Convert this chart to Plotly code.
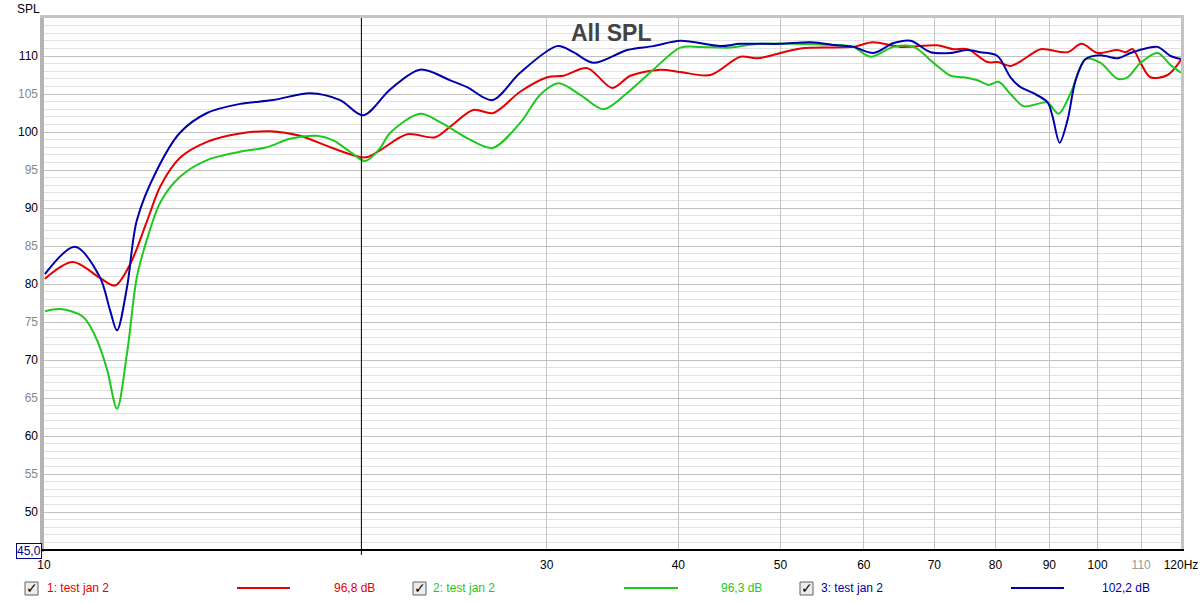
import plotly.graph_objects as go

# ---------------- data ----------------
red_f = [10.02, 10.65, 11.30, 11.68, 12.07, 12.52, 12.89, 13.46, 14.28, 15.35, 16.39, 17.5, 18.69,
         19.96, 20.27, 20.85, 22.12, 23.51, 24.30, 25.55, 26.70, 28.31, 30.04, 31.12, 32.79, 34.63,
         36.02, 38.46, 40.18, 42.91, 45.81, 47.55, 52.25, 58.65, 61.14, 65.03, 70.47, 72.99, 75.26,
         78.61, 80.35, 82.67, 84.51, 85.81, 88.30, 93.66, 96.56, 100.0, 104.47, 106.31, 107.95,
         109.85, 112.27, 116.55, 120.0]
red_db = [80.7, 82.9, 80.8, 79.8, 82.6, 88.2, 92.8, 96.6, 98.7, 99.8, 100.1, 99.5, 98.0,
          96.7, 96.7, 97.6, 99.7, 99.3, 100.7, 102.9, 102.5, 105.3, 107.2, 107.4, 108.4, 105.8,
          107.4, 108.2, 107.9, 107.5, 109.9, 109.7, 111.0, 111.2, 111.8, 111.2, 111.4, 110.9, 110.9,
          109.2, 109.2, 108.7, 109.3, 109.9, 110.9, 110.5, 111.6, 110.4, 110.8, 110.5, 110.9,
          109.1, 107.2, 107.5, 109.5]

green_f = [10.02, 10.36, 10.89, 11.23, 11.48, 11.73, 11.99, 12.25, 12.52, 12.89, 13.46, 14.28, 15.35,
           16.28, 17.12, 18.16, 18.82, 19.52, 20.18, 20.85, 21.31, 22.75, 23.77, 25.21, 26.64, 28.31,
           29.58, 30.78, 32.28, 33.96, 36.02, 37.87, 40.18, 41.98, 44.53, 47.86, 57.00, 58.65, 60.87,
           64.04, 66.91, 69.88, 72.52, 74.61, 76.91, 78.79, 80.54, 82.67, 85.06, 88.30, 89.66, 91.84,
           94.28, 97.41, 100.65, 104.47, 106.78, 109.85, 114.02, 117.31, 120.0]
green_db = [76.4, 76.7, 75.7, 72.6, 68.7, 63.6, 70.9, 80.9, 85.8, 90.7, 94.1, 96.3, 97.4,
            98.0, 99.1, 99.5, 98.9, 97.4, 96.2, 97.9, 99.9, 102.4, 101.3, 99.2, 97.9, 101.2,
            104.9, 106.4, 104.9, 103.0, 105.5, 108.2, 111.1, 111.2, 111.1, 111.6, 111.4, 111.2, 109.9,
            111.2, 111.2, 109.1, 107.4, 107.2, 106.8, 106.2, 106.6, 105.0, 103.4, 103.8, 103.9, 102.4,
            105.1, 109.6, 109.1, 107.0, 107.2, 109.1, 110.4, 108.8, 107.8]

blue_f = [10.02, 10.70, 11.30, 11.55, 11.73, 11.99, 12.25, 12.80, 13.46, 14.28, 15.35, 16.50, 17.89,
          19.10, 20.09, 21.31, 22.75, 24.30, 25.21, 26.64, 28.31, 30.71, 31.80, 33.22, 35.78,
          37.87, 40.18, 43.85, 45.81, 50.00, 53.41, 56.63, 58.65, 61.28, 64.04, 66.46, 69.42, 72.52,
          75.26, 77.42, 80.35, 82.67, 84.51, 86.93, 89.66, 90.65, 92.04, 93.66, 95.31, 97.41, 100.65,
          104.47, 107.48, 110.33, 114.02, 117.31, 120.0]
blue_db = [81.3, 84.9, 80.9, 76.6, 73.9, 79.6, 88.4, 95.0, 99.9, 102.5, 103.7, 104.2, 105.1,
           104.2, 102.2, 105.6, 108.2, 106.8, 105.9, 104.2, 107.8, 111.3, 110.5, 109.1, 110.8,
           111.3, 112.0, 111.3, 111.6, 111.6, 111.8, 111.4, 111.2, 110.4, 111.7, 112.0, 110.5, 110.4,
           110.8, 110.5, 110.0, 107.2, 105.9, 105.1, 103.9, 102.0, 98.6, 101.6, 106.8, 109.6, 110.1,
           109.7, 110.4, 110.9, 111.2, 110.0, 109.6]

series_names = ["1: test jan 2", "2: test jan 2", "3: test jan 2"]
series_levels = ["96,8 dB", "96,3 dB", "102,2 dB"]
series_colors = ["#e60000", "#1ec81e", "#0000aa"]

x_tick_vals = [10, 20, 30, 40, 50, 60, 70, 80, 90, 100, 110, 120]
x_tick_text = ["10", "", "30", "40", "50", "60", "70", "80", "90", "100",
               "<span style='color:#999999'>110</span>", "120Hz"]
y_tick_vals = [50, 55, 60, 65, 70, 75, 80, 85, 90, 95, 100, 105, 110]
y_tick_text = [str(v) if v % 10 == 0 else f"<span style='color:#888888'>{v}</span>" for v in y_tick_vals]

cursor_freq = 20.01
cursor_label = "20,01"
ymin_label = "45,0"
title_text = "All SPL"
y_title = "SPL"

# ---------------- geometry helpers (layout only) ----------------
W, H = 1202, 603
L, R, T, B = 44, 1181, 18, 550


def px(p):
    return (p - L) / (R - L)


def py(p):
    return (B - p) / (B - T)


fig = go.Figure()
for f, d, c, n in zip([red_f, green_f, blue_f], [red_db, green_db, blue_db], series_colors, series_names):
    fig.add_trace(go.Scatter(x=f, y=d, mode="lines", name=n,
                             line=dict(color=c, width=2, shape="spline", smoothing=0.9),
                             hoverinfo="skip", showlegend=False))

font = "Liberation Sans, Arial, sans-serif"

fig.update_layout(
    width=W, height=H,
    margin=dict(l=L, r=W - R, t=T, b=H - B, pad=0, autoexpand=False),
    paper_bgcolor="white", plot_bgcolor="white",
    font=dict(family=font, size=12, color="black"),
    xaxis=dict(type="log", range=[1, 2.0792], tickvals=x_tick_vals, ticktext=x_tick_text,
               showgrid=True, gridcolor="#c4c4c4", gridwidth=1, zeroline=False, showline=False,
               automargin=False,
               ticks="", ticklabelstandoff=6, tickfont=dict(size=12, color="black")),
    yaxis=dict(range=[45, 115], tickvals=y_tick_vals, ticktext=y_tick_text,
               showgrid=True, gridcolor="#c0c0c0", gridwidth=1, zeroline=False, showline=False,
               automargin=False,
               ticks="", ticklabelstandoff=5, tickfont=dict(size=12, color="black"),
               minor=dict(tick0=45, dtick=1, showgrid=True, gridcolor="#e2e2e2", gridwidth=1)),
)

shapes = []
# darker 100 Hz grid line
shapes.append(dict(type="line", xref="x", yref="paper", x0=100, x1=100, y0=0, y1=1,
                   line=dict(color="#808080", width=1), layer="below"))
# plot frame (3D-like gray borders)
shapes.append(dict(type="rect", xref="paper", yref="paper", x0=px(40), x1=px(44), y0=py(B + 2), y1=py(15),
                   fillcolor="#b4b4b4", line=dict(width=0)))
shapes.append(dict(type="rect", xref="paper", yref="paper", x0=px(40), x1=px(R + 3), y0=py(18), y1=py(15),
                   fillcolor="#c4c4c4", line=dict(width=0)))
shapes.append(dict(type="rect", xref="paper", yref="paper", x0=px(R), x1=px(R + 3), y0=py(B), y1=py(15),
                   fillcolor="#c4c4c4", line=dict(width=0)))
# bottom axis line
shapes.append(dict(type="line", xref="paper", yref="paper", x0=px(42), x1=px(R + 3), y0=py(B), y1=py(B),
                   line=dict(color="black", width=2)))
# cursor line
shapes.append(dict(type="line", xref="x", yref="paper", x0=cursor_freq, x1=cursor_freq, y0=py(555), y1=1,
                   line=dict(color="black", width=1)))

annotations = []
annotations.append(dict(text=y_title, xref="paper", yref="paper", x=px(28), y=py(9), showarrow=False,
                        font=dict(size=12, color="black"), xanchor="center", yanchor="middle"))
annotations.append(dict(text="<b>" + title_text + "</b>", xref="paper", yref="paper", x=px(611), y=py(33),
                        showarrow=False, font=dict(size=23, color="#444444", family=font),
                        xanchor="center", yanchor="middle"))
annotations.append(dict(text=ymin_label, xref="paper", yref="paper", x=px(28.5), y=py(550.5), showarrow=False,
                        font=dict(size=12, color="#00007f"), bgcolor="white", bordercolor="#00008b",
                        borderwidth=1, borderpad=0, xanchor="center", yanchor="middle"))
annotations.append(dict(text=cursor_label, xref="x", yref="paper", x=2.30125, y=py(563),
                        showarrow=False, font=dict(size=12, color="#00007f"), bgcolor="white",
                        bordercolor="#00008b", borderwidth=1, borderpad=0, xanchor="center", yanchor="middle"))

# legend row
box_left = [25, 413, 800]
text_left = [46, 432, 820]
line_span = [(237, 290), (624, 678), (1011, 1064)]
value_left = [333, 720, 1101]
ly = 588
for i in range(3):
    c = series_colors[i]
    shapes.append(dict(type="rect", xref="paper", yref="paper", x0=px(box_left[i]), x1=px(box_left[i] + 13),
                       y0=py(ly + 7), y1=py(ly - 6), fillcolor="#ececec", line=dict(color="#606060", width=1)))
    annotations.append(dict(text="✓", xref="paper", yref="paper", x=px(box_left[i] + 6.5), y=py(ly),
                            showarrow=False, font=dict(size=14, color="black", family="DejaVu Sans"),
                            xanchor="center", yanchor="middle"))
    annotations.append(dict(text=series_names[i], xref="paper", yref="paper", x=px(text_left[i] - 1), y=py(ly),
                            showarrow=False, font=dict(size=12, color=c), xanchor="left", yanchor="middle"))
    shapes.append(dict(type="line", xref="paper", yref="paper", x0=px(line_span[i][0]), x1=px(line_span[i][1]),
                       y0=py(ly), y1=py(ly), line=dict(color=c, width=2)))
    annotations.append(dict(text=series_levels[i], xref="paper", yref="paper", x=px(value_left[i] - 1), y=py(ly),
                            showarrow=False, font=dict(size=12, color=c), xanchor="left", yanchor="middle"))

fig.update_layout(shapes=shapes, annotations=annotations)
fig.write_html("out.html", config={"displayModeBar": False},
               post_script="document.body.style.margin='0';document.body.style.overflow='hidden';")
